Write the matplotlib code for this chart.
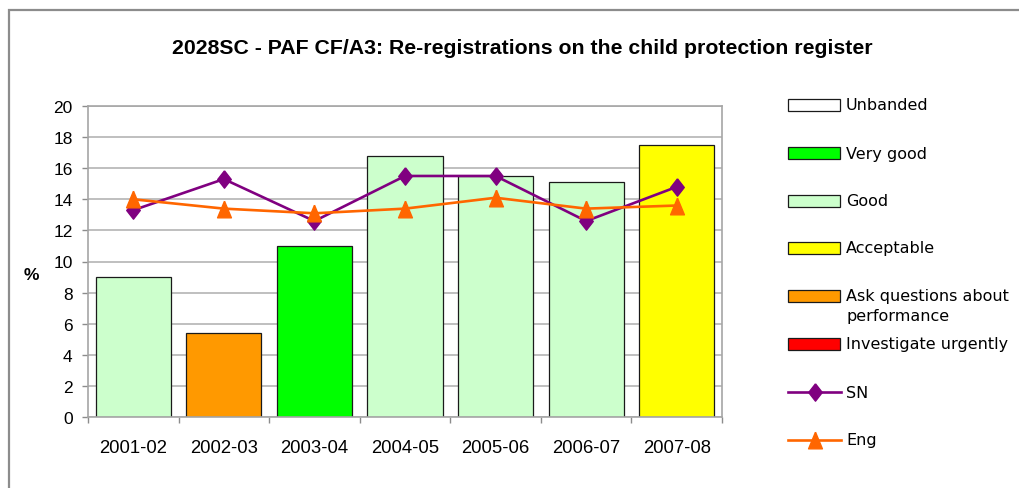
import matplotlib
matplotlib.use("Agg")
import matplotlib.pyplot as plt
from matplotlib.patches import Rectangle
from matplotlib.lines import Line2D

# ---- data ----
years = ["2001-02", "2002-03", "2003-04", "2004-05", "2005-06", "2006-07", "2007-08"]
values = [9.0, 5.4, 11.0, 16.8, 15.5, 15.1, 17.5]
bands = ["Good", "Ask questions about\nperformance", "Very good", "Good", "Good", "Good", "Acceptable"]
sn = [13.3, 15.3, 12.6, 15.5, 15.5, 12.6, 14.8]
eng = [14.0, 13.4, 13.1, 13.4, 14.1, 13.4, 13.6]

band_names = ["Unbanded", "Very good", "Good", "Acceptable",
              "Ask questions about\nperformance", "Investigate urgently"]
band_colors = ["#FFFFFF", "#00FF00", "#CCFFCC", "#FFFF00", "#FF9900", "#FF0000"]
series_names = ["SN", "Eng"]
title = "2028SC - PAF CF/A3: Re-registrations on the child protection register"
yticks = [0, 2, 4, 6, 8, 10, 12, 14, 16, 18, 20]

W, H = 1020, 489
fig = plt.figure(figsize=(W / 100, H / 100), dpi=100)
fig.patch.set_facecolor("white")

def fx(px):
    return px / W

def fy(py):
    return 1 - py / H

# custom marker shapes (taller than wide, as in the reference)
diamond = [(0, 1), (0.78, 0), (0, -1), (-0.78, 0), (0, 1)]
triangle = [(0, 1), (0.83, -1), (-0.83, -1), (0, 1)]

# outer border
fig.add_artist(Rectangle((fx(9), fy(H + 20)), 1.2, fy(11) - fy(H + 20),
                         transform=fig.transFigure, fill=False,
                         edgecolor="#8C8C8C", linewidth=1.6))

AX_L, AX_R, AX_T, AX_B = 88, 722, 107, 418
ax = fig.add_axes([fx(AX_L), fy(AX_B), fx(AX_R) - fx(AX_L), fy(AX_T) - fy(AX_B)])

color_map = dict(zip(band_names, band_colors))
x = list(range(len(years)))
ax.bar(x, values, width=0.83, color=[color_map[b] for b in bands],
       edgecolor="#1a1a1a", linewidth=0.9, zorder=2)

sn_color = "#800080"
eng_color = "#FF6600"
ax.plot(x, sn, color=sn_color, linewidth=1.9, marker=diamond, markersize=12.5,
        zorder=3)
ax.plot(x, eng, color=eng_color, linewidth=1.9, marker=triangle, markersize=12,
        zorder=4)

ax.set_xlim(-0.5, len(years) - 0.5)
ax.set_ylim(0, 20)
ax.set_yticks(yticks)
ax.set_yticklabels([str(t) for t in yticks], fontsize=12.5, family="Liberation Sans")
ax.tick_params(axis="y", length=4.5, width=1.0, color="#8C8C8C", pad=6.5)

ax.set_xticks([i - 0.5 for i in range(len(years) + 1)])
ax.set_xticklabels([])
ax.set_xticks(x, minor=True)
ax.set_xticklabels(years, minor=True, fontsize=13.3, family="Liberation Sans")
ax.tick_params(axis="x", which="major", length=4.5, width=1.0, color="#8C8C8C")
ax.tick_params(axis="x", which="minor", length=0, pad=15.5)

ax.grid(axis="y", color="#BFBFBF", linewidth=1.4, zorder=0)
ax.set_axisbelow(True)
for side in ["left", "bottom", "top", "right"]:
    ax.spines[side].set_color("#A6A6A6")
    ax.spines[side].set_linewidth(1.2)

ax.set_ylabel("%", rotation=0, fontsize=12.5, fontweight="bold",
              family="Liberation Sans", va="center", ha="center")
ax.yaxis.set_label_coords((31 - AX_L) / (AX_R - AX_L), (AX_B - 276) / (AX_B - AX_T))

fig.text(fx(522), fy(49), title, ha="center", va="center", fontsize=15.3,
         fontweight="bold", family="Liberation Sans")

# ---- legend (drawn manually to match layout) ----
leg_y = [105.7, 154, 201.7, 249, 297, 345]
for name, col, yy in zip(band_names, band_colors, leg_y):
    fig.add_artist(Rectangle((fx(788), fy(yy + 6)), fx(840) - fx(788), fy(yy - 6) - fy(yy + 6),
                             transform=fig.transFigure, facecolor=col,
                             edgecolor="#1a1a1a", linewidth=0.9))
    if "\n" in name:
        fig.text(fx(846), fy(yy - 8), name, ha="left", va="top", fontsize=11.5,
                 family="DejaVu Sans", linespacing=1.45)
    else:
        fig.text(fx(846), fy(yy), name, ha="left", va="center", fontsize=11.5,
                 family="DejaVu Sans")

for name, col, mk, ms, yy in zip(series_names, [sn_color, eng_color], [diamond, triangle],
                                 [12.5, 12], [393, 441]):
    fig.add_artist(Line2D([fx(788), fx(841)], [fy(yy), fy(yy)], transform=fig.transFigure,
                          color=col, linewidth=1.9))
    fig.add_artist(Line2D([fx(814.5)], [fy(yy)], transform=fig.transFigure,
                          color=col, marker=mk, markersize=ms, linestyle="none"))
    fig.text(fx(846), fy(yy), name, ha="left", va="center", fontsize=11.5,
             family="DejaVu Sans")

fig.savefig("out.png", dpi=100)
